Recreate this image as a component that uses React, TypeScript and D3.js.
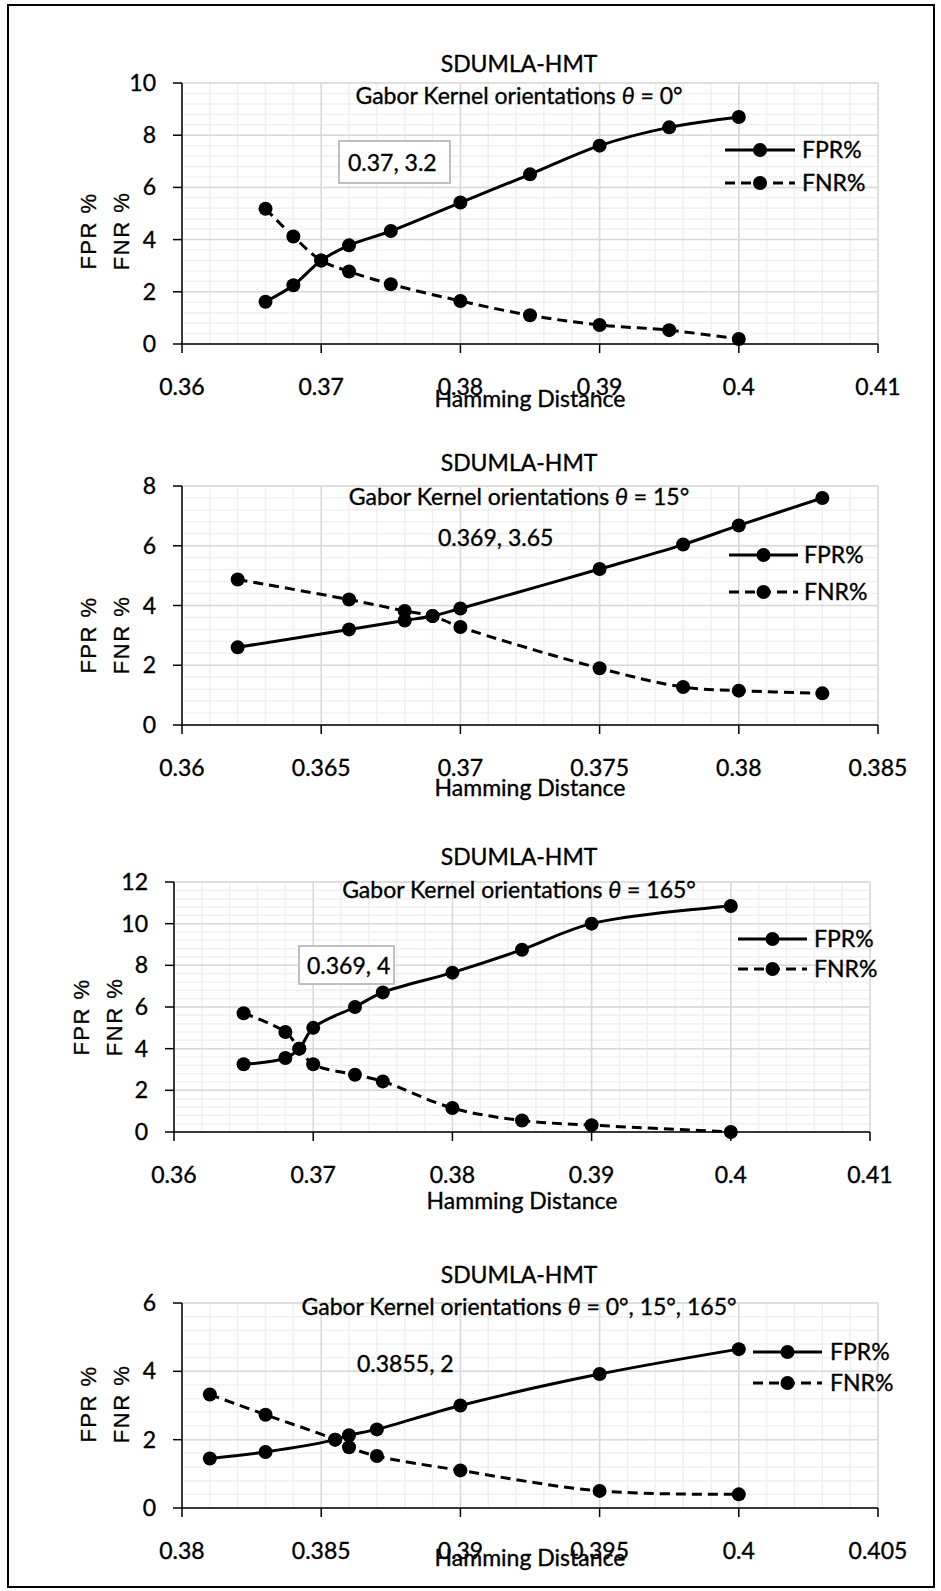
import React from "react";
import * as d3 from "d3";

// Hamming distance thresholds and error rates
const hd0 = [0.366, 0.368, 0.37, 0.372, 0.375, 0.38, 0.385, 0.39, 0.395, 0.4];
const fpr0 = [1.62, 2.25, 3.2, 3.78, 4.33, 5.42, 6.5, 7.6, 8.3, 8.7];
const fnr0 = [5.18, 4.12, 3.2, 2.78, 2.29, 1.65, 1.1, 0.73, 0.53, 0.19];

const hd15 = [0.362, 0.366, 0.368, 0.369, 0.37, 0.375, 0.378, 0.38, 0.383];
const fpr15 = [2.6, 3.2, 3.5, 3.65, 3.9, 5.22, 6.04, 6.68, 7.6];
const fnr15 = [4.87, 4.2, 3.82, 3.65, 3.28, 1.9, 1.27, 1.15, 1.06];

const hd165 = [0.365, 0.368, 0.369, 0.37, 0.373, 0.375, 0.38, 0.385, 0.39, 0.4];
const fpr165 = [3.25, 3.55, 4, 5, 6, 6.7, 7.65, 8.75, 10, 10.85];
const fnr165 = [5.7, 4.8, 4, 3.25, 2.75, 2.43, 1.15, 0.55, 0.33, 0];

const hdAll = [0.381, 0.383, 0.3855, 0.386, 0.387, 0.39, 0.395, 0.4];
const fprAll = [1.45, 1.64, 2, 2.13, 2.3, 3, 3.92, 4.65];
const fnrAll = [3.32, 2.73, 2, 1.78, 1.52, 1.1, 0.5, 0.4];

const titleText = "SDUMLA-HMT";
const angleTexts = [" = 0°", " = 15°", " = 165°", " = 0°, 15°, 165°"];
const crossLabels = ["0.37, 3.2", "0.369, 3.65", "0.369, 4", "0.3855, 2"];
const seriesNames = ["FPR%", "FNR%"];

const FONT = "Lato, 'Open Sans', sans-serif";
const W = 941;
const H = 1591;

// shared text look (slightly heavier, like the Excel export)
const txt = { fontSize: 23, fontFamily: FONT, fill: "#000", stroke: "#000", strokeWidth: 0.35 };

const charts = [
  {
    xs: hd0, fpr: fpr0, fnr: fnr0, xDomain: [0.36, 0.41], xStep: 0.01, xMinor: 0.002, yMax: 10,
    left: 182, right: 878, top: 83, bottom: 344, titleY: 72, subY: 104, hdY: 407,
    legend: { x0: 725, x1: 795, tx: 802, y1: 150, y2: 183 },
    ann: { x: 348, y: 171, box: [339, 141, 111, 42] }, yl: { x1: 88, x2: 121, cy: 231 },
  },
  {
    xs: hd15, fpr: fpr15, fnr: fnr15, xDomain: [0.36, 0.385], xStep: 0.005, xMinor: 0.001, yMax: 8,
    left: 182, right: 878, top: 486, bottom: 725, titleY: 471, subY: 505, hdY: 796,
    legend: { x0: 729, x1: 798, tx: 804, y1: 555, y2: 592 },
    ann: { x: 438, y: 546, box: null }, yl: { x1: 88, x2: 121, cy: 635 },
  },
  {
    xs: hd165, fpr: fpr165, fnr: fnr165, xDomain: [0.36, 0.41], xStep: 0.01, xMinor: 0.002, yMax: 12,
    left: 174, right: 870, top: 882, bottom: 1132, titleY: 865, subY: 898, hdY: 1209,
    legend: { x0: 738, x1: 807, tx: 814, y1: 939, y2: 969 },
    ann: { x: 307, y: 974, box: [299, 946, 95, 38] }, yl: { x1: 81, x2: 114, cy: 1017 },
  },
  {
    xs: hdAll, fpr: fprAll, fnr: fnrAll, xDomain: [0.38, 0.405], xStep: 0.005, xMinor: 0.001, yMax: 6,
    left: 182, right: 878, top: 1303, bottom: 1508, titleY: 1283, subY: 1315, hdY: 1566,
    legend: { x0: 753, x1: 822, tx: 830, y1: 1352, y2: 1383 },
    ann: { x: 357, y: 1372, box: null }, yl: { x1: 88, x2: 121, cy: 1404 },
  },
];

const fmt = (v: number) => String(parseFloat(v.toFixed(4)));
const steps = (a: number, b: number, s: number) =>
  d3.range(Math.round((b - a) / s) + 1).map((i) => a + i * s);

function Panel({ c, idx }: { c: any; idx: number }) {
  const x = d3.scaleLinear().domain(c.xDomain).range([c.left, c.right]);
  const y = d3.scaleLinear().domain([0, c.yMax]).range([c.bottom, c.top]);
  const xMajor = steps(c.xDomain[0], c.xDomain[1], c.xStep);
  const xMinor = steps(c.xDomain[0], c.xDomain[1], c.xMinor);
  const yMajor = steps(0, c.yMax, 2);
  const yMinor = steps(0, c.yMax, 0.4);
  const line = d3
    .line<[number, number]>()
    .x((d) => x(d[0]))
    .y((d) => y(d[1]))
    .curve(d3.curveCatmullRom.alpha(0.5));
  const fprPts = c.xs.map((v: number, i: number) => [v, c.fpr[i]] as [number, number]);
  const fnrPts = c.xs.map((v: number, i: number) => [v, c.fnr[i]] as [number, number]);
  const mid = (c.left + c.right) / 2;
  const L = c.legend;
  const yLab = { fontSize: 22, letterSpacing: 1.5, fontFamily: "'Liberation Sans', Arial, sans-serif", stroke: "#000", strokeWidth: 0.3 };

  return (
    <g>
      {/* minor grid */}
      {xMinor.map((v, i) => (
        <line key={"xm" + i} x1={x(v)} x2={x(v)} y1={c.top} y2={c.bottom} stroke="#f0f0f0" strokeWidth={1.5} />
      ))}
      {yMinor.map((v, i) => (
        <line key={"ym" + i} x1={c.left} x2={c.right} y1={y(v)} y2={y(v)} stroke="#f0f0f0" strokeWidth={1.5} />
      ))}
      {/* major grid */}
      {xMajor.map((v, i) => (
        <line key={"xM" + i} x1={x(v)} x2={x(v)} y1={c.top} y2={c.bottom} stroke="#d9d9d9" strokeWidth={1.5} />
      ))}
      {yMajor.map((v, i) => (
        <line key={"yM" + i} x1={c.left} x2={c.right} y1={y(v)} y2={y(v)} stroke="#d9d9d9" strokeWidth={1.5} />
      ))}
      {/* axes */}
      <line x1={c.left} x2={c.left} y1={c.top} y2={c.bottom} stroke="#000" strokeWidth={1.5} />
      <line x1={c.left} x2={c.right} y1={c.bottom} y2={c.bottom} stroke="#000" strokeWidth={1.5} />
      {yMajor.map((v, i) => (
        <g key={"yt" + i}>
          <line x1={c.left - 9} x2={c.left} y1={y(v)} y2={y(v)} stroke="#000" strokeWidth={1.5} />
          <text x={c.left - 26} y={y(v) + 8} textAnchor="end" {...txt}>
            {fmt(v)}
          </text>
        </g>
      ))}
      {xMajor.map((v, i) => (
        <g key={"xt" + i}>
          <line x1={x(v)} x2={x(v)} y1={c.bottom} y2={c.bottom + 9} stroke="#000" strokeWidth={1.5} />
          <text x={x(v)} y={c.bottom + 51} textAnchor="middle" {...txt}>
            {fmt(v)}
          </text>
        </g>
      ))}
      {/* series */}
      <path d={line(fprPts) || ""} fill="none" stroke="#000" strokeWidth={3} />
      <path d={line(fnrPts) || ""} fill="none" stroke="#000" strokeWidth={3} strokeDasharray="10,6" />
      {fprPts.map((p, i) => (
        <circle key={"pf" + i} cx={x(p[0])} cy={y(p[1])} r={7} fill="#000" />
      ))}
      {fnrPts.map((p, i) => (
        <circle key={"pn" + i} cx={x(p[0])} cy={y(p[1])} r={7} fill="#000" />
      ))}
      {/* legend */}
      <line x1={L.x0} x2={L.x1} y1={L.y1} y2={L.y1} stroke="#000" strokeWidth={3} />
      <circle cx={(L.x0 + L.x1) / 2} cy={L.y1} r={7} fill="#000" />
      <text x={L.tx} y={L.y1 + 8} {...txt}>{seriesNames[0]}</text>
      <line x1={L.x0} x2={L.x1} y1={L.y2} y2={L.y2} stroke="#000" strokeWidth={3} strokeDasharray="10,6" />
      <circle cx={(L.x0 + L.x1) / 2} cy={L.y2} r={7} fill="#000" />
      <text x={L.tx} y={L.y2 + 8} {...txt}>{seriesNames[1]}</text>
      {/* titles */}
      <text x={519} y={c.titleY} textAnchor="middle" {...txt}>{titleText}</text>
      <text x={519} y={c.subY} textAnchor="middle" {...txt}>
        Gabor Kernel orientations <tspan fontStyle="italic">θ</tspan>
        {angleTexts[idx]}
      </text>
      {/* crossing label */}
      {c.ann.box && (
        <rect x={c.ann.box[0]} y={c.ann.box[1]} width={c.ann.box[2]} height={c.ann.box[3]}
          fill="#fff" stroke="#bfbfbf" strokeWidth={2} />
      )}
      <text x={c.ann.x} y={c.ann.y} {...txt}>{crossLabels[idx]}</text>
      {/* axis titles */}
      <text x={mid} y={c.hdY} textAnchor="middle" {...txt}>Hamming Distance</text>
      <text transform={`translate(${c.yl.x1},${c.yl.cy}) rotate(-90)`} textAnchor="middle" dominantBaseline="central" {...yLab}>
        FPR %
      </text>
      <text transform={`translate(${c.yl.x2},${c.yl.cy}) rotate(-90)`} textAnchor="middle" dominantBaseline="central" {...yLab}>
        FNR %
      </text>
    </g>
  );
}

export default function App() {
  return (
    <svg width={W} height={H} style={{ position: "absolute", left: 0, top: 0, background: "#fff" }}>
      <rect x={0} y={0} width={W} height={H} fill="#fff" />
      <rect x={8} y={5} width={926} height={1582} fill="none" stroke="#000" strokeWidth={2} />
      {charts.map((c, i) => (
        <Panel key={i} c={c} idx={i} />
      ))}
    </svg>
  );
}
